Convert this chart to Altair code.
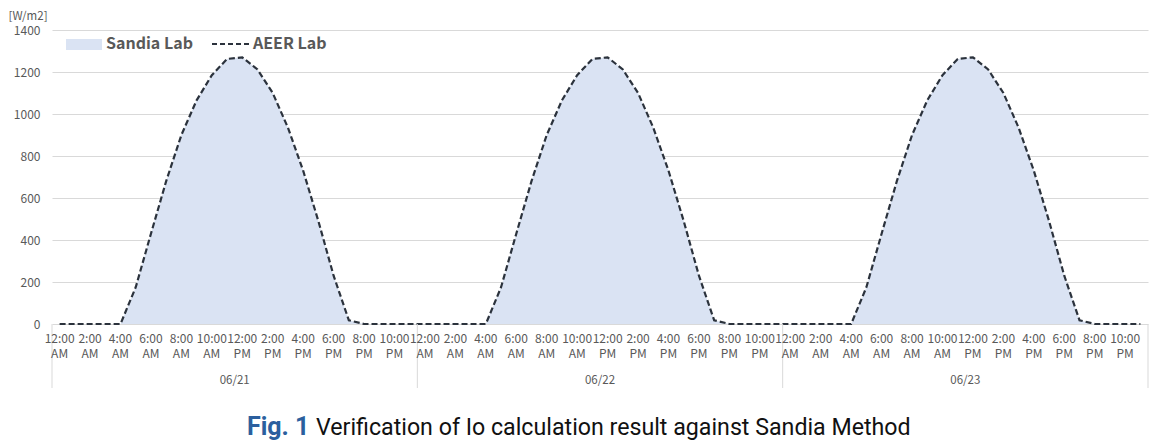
import altair as alt
import pandas as pd

# ---- data (hourly, W/m2) ----
hours_label = ["12:00\nAM", "2:00\nAM", "4:00\nAM", "6:00\nAM", "8:00\nAM", "10:00\nAM",
               "12:00\nPM", "2:00\nPM", "4:00\nPM", "6:00\nPM", "8:00\nPM", "10:00\nPM"]
days = ["06/21", "06/22", "06/23"]

sandia_d1 = [0, 0, 0, 0, 0, 175, 430, 680, 900, 1065, 1185, 1262,
             1270, 1212, 1100, 935, 730, 490, 230, 18, 0, 0, 0, 0]
sandia_d2 = [0, 0, 0, 0, 0, 175, 430, 680, 900, 1065, 1185, 1262,
             1270, 1212, 1100, 935, 730, 490, 230, 18, 0, 0, 0, 0]
sandia_d3 = [0, 0, 0, 0, 0, 175, 430, 680, 900, 1065, 1185, 1262,
             1270, 1212, 1100, 935, 730, 490, 230, 18, 0, 0, 0, 0]
aeer_d1 = [0, 0, 0, 0, 0, 175, 430, 680, 900, 1065, 1185, 1262,
           1270, 1212, 1100, 935, 730, 490, 230, 18, 0, 0, 0, 0]
aeer_d2 = [0, 0, 0, 0, 0, 175, 430, 680, 900, 1065, 1185, 1262,
           1270, 1212, 1100, 935, 730, 490, 230, 18, 0, 0, 0, 0]
aeer_d3 = [0, 0, 0, 0, 0, 175, 430, 680, 900, 1065, 1185, 1262,
           1270, 1212, 1100, 935, 730, 490, 230, 18, 0, 0, 0, 0]

sandia = sandia_d1 + sandia_d2 + sandia_d3
aeer = aeer_d1 + aeer_d2 + aeer_d3

W, H = 1096, 294
FONT = "Noto Sans CJK KR"
CAPFONT = "Roboto"
GREY = "#595959"
GRID = "#d9d9d9"

df = pd.DataFrame({"pos": [i + 0.5 for i in range(len(sandia))],
                   "sandia": sandia, "aeer": aeer})

xs = alt.Scale(domain=[0, 72], nice=False, zero=False)
ys = alt.Scale(domain=[0, 1400], nice=False)

area = alt.Chart(df).mark_area(color="#dae3f3", opacity=1).encode(
    x=alt.X("pos:Q", scale=xs, axis=None),
    y=alt.Y("sandia:Q", scale=ys,
            axis=alt.Axis(values=list(range(0, 1401, 200)), format="d", grid=True,
                          gridColor=GRID, domain=False, ticks=False, labelColor=GREY,
                          labelFont=FONT, labelFontSize=12, labelPadding=12,
                          title="[W/m2]", titleAngle=0, titleAlign="left",
                          titleBaseline="bottom", titleX=-44, titleY=-9,
                          titleFont=FONT, titleFontSize=11.5, titleFontWeight="normal",
                          titleColor=GREY)),
)

line = alt.Chart(df).mark_line(color="#2b323c", strokeWidth=2.2, strokeDash=[6, 3]).encode(
    x=alt.X("pos:Q", scale=xs),
    y=alt.Y("aeer:Q", scale=ys),
)

lab_df = pd.DataFrame({
    "pos": [d * 24 + j * 2 + 0.5 for d in range(3) for j in range(12)],
    "txt": [hours_label[j] for d in range(3) for j in range(12)],
})
hour_text = alt.Chart(lab_df).mark_text(
    lineBreak="\n", baseline="top", align="center", font=FONT, fontSize=12,
    color=GREY, lineHeight=15
).encode(x=alt.X("pos:Q", scale=xs), y=alt.value(H + 10), text="txt:N")

day_df = pd.DataFrame({"pos": [d * 24 + 12 for d in range(3)], "day": days})
day_text = alt.Chart(day_df).mark_text(
    baseline="middle", align="center", font=FONT, fontSize=11.5, color=GREY
).encode(x=alt.X("pos:Q", scale=xs), y=alt.value(H + 57), text="day:N")

sep_df = pd.DataFrame({"pos": [0, 24, 48, 72]})
seps = alt.Chart(sep_df).mark_rule(color=GRID, strokeWidth=1).encode(
    x=alt.X("pos:Q", scale=xs), y=alt.value(H), y2=alt.value(H + 64))

# ---- legend ----
leg_df = pd.DataFrame({"k": [0]})
swatch = alt.Chart(leg_df).mark_rect(color="#dae3f3").encode(
    x=alt.value(14), x2=alt.value(50), y=alt.value(9), y2=alt.value(20))
sw_text = alt.Chart(leg_df).mark_text(
    align="left", baseline="middle", font=FONT, fontSize=16, fontWeight="bold", color=GREY
).encode(x=alt.value(54), y=alt.value(14), text=alt.value("Sandia Lab"))
dash = alt.Chart(leg_df).mark_rule(color="#2b323c", strokeWidth=2, strokeDash=[5, 3]).encode(
    x=alt.value(160), x2=alt.value(200), y=alt.value(14))
dash_text = alt.Chart(leg_df).mark_text(
    align="left", baseline="middle", font=FONT, fontSize=16, fontWeight="bold", color=GREY
).encode(x=alt.value(201), y=alt.value(14), text=alt.value("AEER Lab"))

# ---- caption ----
cap1 = alt.Chart(leg_df).mark_text(
    align="left", baseline="alphabetic", font=CAPFONT, fontSize=25,
    fontWeight="bold", color="#2b5f9e"
).encode(x=alt.value(195), y=alt.value(H + 111), text=alt.value("Fig. 1"))
cap2 = alt.Chart(leg_df).mark_text(
    align="left", baseline="alphabetic", font=CAPFONT, fontSize=23.2,
    color="#111111"
).encode(x=alt.value(264), y=alt.value(H + 111),
         text=alt.value("Verification of Io calculation result against Sandia Method"))

chart = alt.layer(area, line, seps, hour_text, day_text, swatch, sw_text, dash, dash_text,
                  cap1, cap2).properties(
    width=W, height=H,
    autosize=alt.AutoSizeParams(type="none"),
    padding={"left": 44, "top": 22, "right": 5, "bottom": 118},
).configure_view(stroke=None)

chart.save("out.html", embed_options={"renderer": "svg", "actions": False})
